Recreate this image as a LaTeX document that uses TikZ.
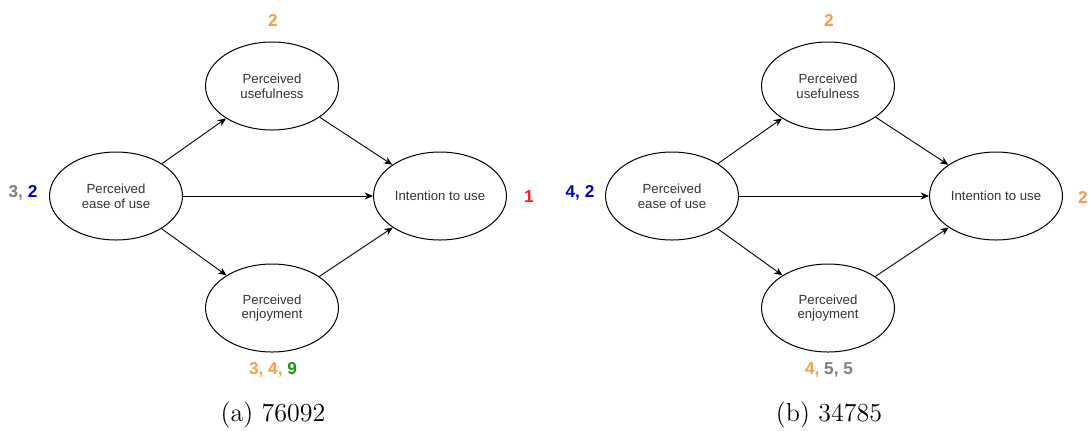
\documentclass[tikz,border=0pt]{standalone}
\usepackage{fontspec}
\newfontfamily\arialfont{Liberation Sans}
\usetikzlibrary{arrows.meta,shapes.geometric}

\definecolor{scoreorange}{HTML}{F59E4C}
\definecolor{scoregray}{HTML}{7F7F7F}
\definecolor{scoreblue}{HTML}{0000CC}
\definecolor{scorered}{HTML}{FF1A1A}
\definecolor{scoregreen}{HTML}{119911}
\definecolor{nodetext}{HTML}{333333}

\begin{document}
\begin{tikzpicture}[x=0.5pt,y=-0.5pt,
  construct/.style={draw,ellipse,line width=0.5pt,inner sep=0pt,
    minimum width=66.5pt,minimum height=44pt,align=center,text=nodetext,
    font=\arialfont\fontsize{6.6}{7.3}\selectfont},
  link/.style={line width=0.45pt,-{Stealth[length=4.2pt,width=3.6pt]}},
  score/.style={font=\arialfont\bfseries\fontsize{8.6}{10}\selectfont},
  caption/.style={font=\fontsize{13}{15}\selectfont}]
  \useasboundingbox (0,0) rectangle (1090,430);

  % the same model twice, once per panel
  \foreach \p/\dx in {a/0,b/556} {
    \node[construct] (ease\p) at (116+\dx,196) {Perceived\\ease of use};
    \node[construct] (useful\p) at (272+\dx,86) {Perceived\\usefulness};
    \node[construct] (enjoy\p) at (272+\dx,308) {Perceived\\enjoyment};
    \node[construct] (intent\p) at (440+\dx,196) {Intention to use};

    \draw[link] (ease\p) -- (useful\p);
    \draw[link] (ease\p) -- (intent\p);
    \draw[link] (ease\p) -- (enjoy\p);
    \draw[link] (useful\p) -- (intent\p);
    \draw[link] (enjoy\p) -- (intent\p);
  }

  % scores, panel (a)
  \node[score,scoreorange] (usefulsca) at (273,20) {2};
  \node[score] (easesca) at (23,193) {\color{scoregray}3, \color{scoreblue}2};
  \node[score,scorered] (intentsca) at (529,197) {1};
  \node[score] (enjoysca) at (273,370) {\color{scoreorange}3, 4, \color{scoregreen}9};
  \node[caption] (capa) at (273,415) {(a) 76092};

  % scores, panel (b)
  \node[score,scoreorange] (usefulscb) at (829,20) {2};
  \node[score,scoreblue] (easescb) at (580,193) {4, 2};
  \node[score,scoreorange] (intentscb) at (1083,197) {2};
  \node[score] (enjoyscb) at (829,370) {\color{scoreorange}4, \color{scoregray}5, 5};
  \node[caption] (capb) at (829,415) {(b) 34785};
\end{tikzpicture}
\end{document}
